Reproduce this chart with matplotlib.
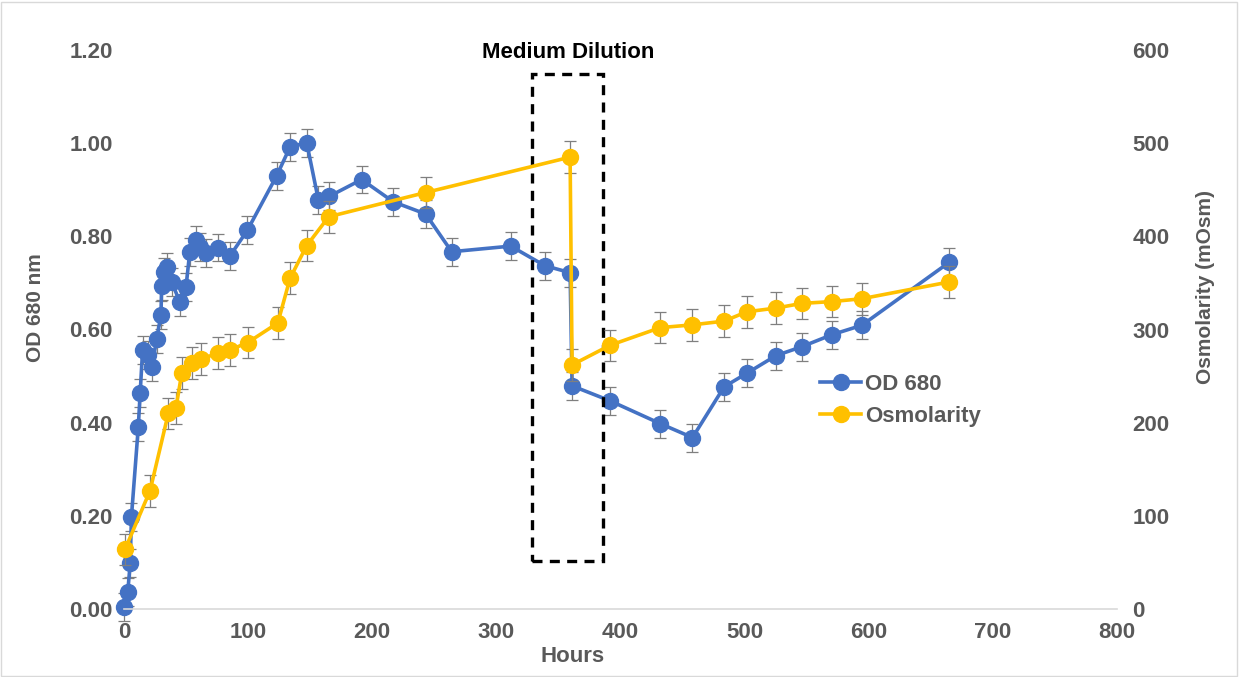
import numpy as np
import matplotlib
matplotlib.use('Agg')
from matplotlib import pyplot as plt
from matplotlib.patches import Rectangle
from matplotlib.lines import Line2D

plt.rcParams['font.family'] = ['Liberation Sans', 'DejaVu Sans']
plt.rcParams['font.weight'] = 'bold'

# OD 680 readings (left axis)
od_hours = [0, 3, 5, 6, 11.5, 13, 15, 19, 22.5, 26.3, 29.8, 30.3, 32.5, 35, 38.4,
            45, 50, 53, 57.7, 61, 66, 75.5, 85.4, 99.4, 123, 133.8, 147.2, 156.6,
            165.5, 191.5, 217, 243, 264, 311.6, 339, 359.4, 361, 391.5, 432, 458,
            483.5, 501.7, 525.3, 546, 570.5, 594.4, 664.7]
od_values = [0.005, 0.036, 0.098, 0.198, 0.39, 0.463, 0.556, 0.545, 0.52, 0.579,
             0.632, 0.694, 0.724, 0.735, 0.702, 0.659, 0.692, 0.767, 0.792, 0.778,
             0.765, 0.776, 0.758, 0.813, 0.93, 0.992, 1.001, 0.878, 0.886, 0.922,
             0.874, 0.848, 0.767, 0.779, 0.737, 0.722, 0.479, 0.447, 0.398, 0.368,
             0.477, 0.506, 0.544, 0.563, 0.589, 0.609, 0.744]
od_err = 0.03

# osmolarity readings (right axis)
osm_hours = [0.8, 21, 35.7, 41.9, 46.5, 54.5, 62, 76, 85.4, 99.7, 123.9, 133.8,
             147.2, 164.9, 243, 359.4, 361, 391.5, 432, 458, 483.5, 501.7, 525.3,
             546, 570.5, 594.4, 664.7]
osm_values = [64, 127, 210, 216, 253, 264, 268, 275, 278, 286, 307, 355, 390, 421,
              447, 485, 262, 283, 302, 305, 309, 319, 323, 328, 330, 333, 351]
osm_err = 17

blue = '#4472C4'
gold = '#FFC000'
grey_txt = '#595959'
fs = 16

fig = plt.figure(figsize=(12.39, 6.77), dpi=100)
ax = fig.add_axes([124/1239, 1-609/677, 993/1239, 559/677])
ax2 = ax.twinx()

eb = dict(ecolor='#7f7f7f', elinewidth=0.9, capsize=4, capthick=0.9,
          lw=2.6, marker='o', ms=11.5)
for a, x, y, err, c in ((ax, od_hours, od_values, od_err, blue),
                        (ax2, osm_hours, osm_values, osm_err, gold)):
    cont = a.errorbar(x, y, yerr=err, color=c, **eb)
    for art in cont.get_children():
        art.set_clip_on(False)

ax.set_xlim(0, 800)
ax.set_ylim(0, 1.2)
ax2.set_ylim(0, 600)
ax.set_xticks(np.arange(0, 801, 100))
ax.set_yticks(np.arange(0, 1.21, 0.2))
ax.set_yticklabels([f'{v:.2f}' for v in np.arange(0, 1.21, 0.2)])
ax2.set_yticks(np.arange(0, 601, 100))

for a in (ax, ax2):
    for s in a.spines.values():
        s.set_visible(False)
    a.tick_params(length=0, labelsize=fs, labelcolor=grey_txt)
ax.spines['bottom'].set_visible(True)
ax.spines['bottom'].set_color('#d9d9d9')
ax.spines['bottom'].set_linewidth(1.2)
ax.tick_params(axis='y', pad=8)
ax.tick_params(axis='x', pad=9)
ax2.tick_params(axis='y', pad=11)

ax.set_xlabel('Hours', fontsize=fs, color=grey_txt, fontweight='bold')
ax.xaxis.set_label_coords(0.452, -0.066)
ax.set_ylabel('OD 680 nm', fontsize=15, color=grey_txt, fontweight='bold')
ax.yaxis.set_label_coords(-0.080, 0.54)
ax2.set_ylabel('Osmolarity (mOsm)', fontsize=15, color=grey_txt, fontweight='bold')
ax2.yaxis.set_label_coords(1.080, 0.576)

# dilution window
ax2.add_patch(Rectangle((329, 52), 57.2, 522, fill=False, ec='black', lw=2.4,
                        ls=(0, (3, 2.2)), clip_on=False))
ax2.text(357.8, 597, 'Medium Dilution', ha='center', va='center', fontsize=fs,
         fontweight='bold', color='black')

handles = [Line2D([], [], color=blue, lw=2.6, marker='o', ms=11.5),
           Line2D([], [], color=gold, lw=2.6, marker='o', ms=11.5)]
ax2.legend(handles, ['OD 680', 'Osmolarity'], loc='upper left',
           bbox_to_anchor=(0.69, 0.44), frameon=False, fontsize=fs,
           handlelength=1.85, handletextpad=0.15, labelspacing=0.5,
           borderpad=0, labelcolor=grey_txt)

fig.add_artist(Rectangle((0.001, 0.001), 0.997, 0.996, transform=fig.transFigure,
                         fill=False, ec='#d9d9d9', lw=1))

fig.savefig('out.png', dpi=100)
